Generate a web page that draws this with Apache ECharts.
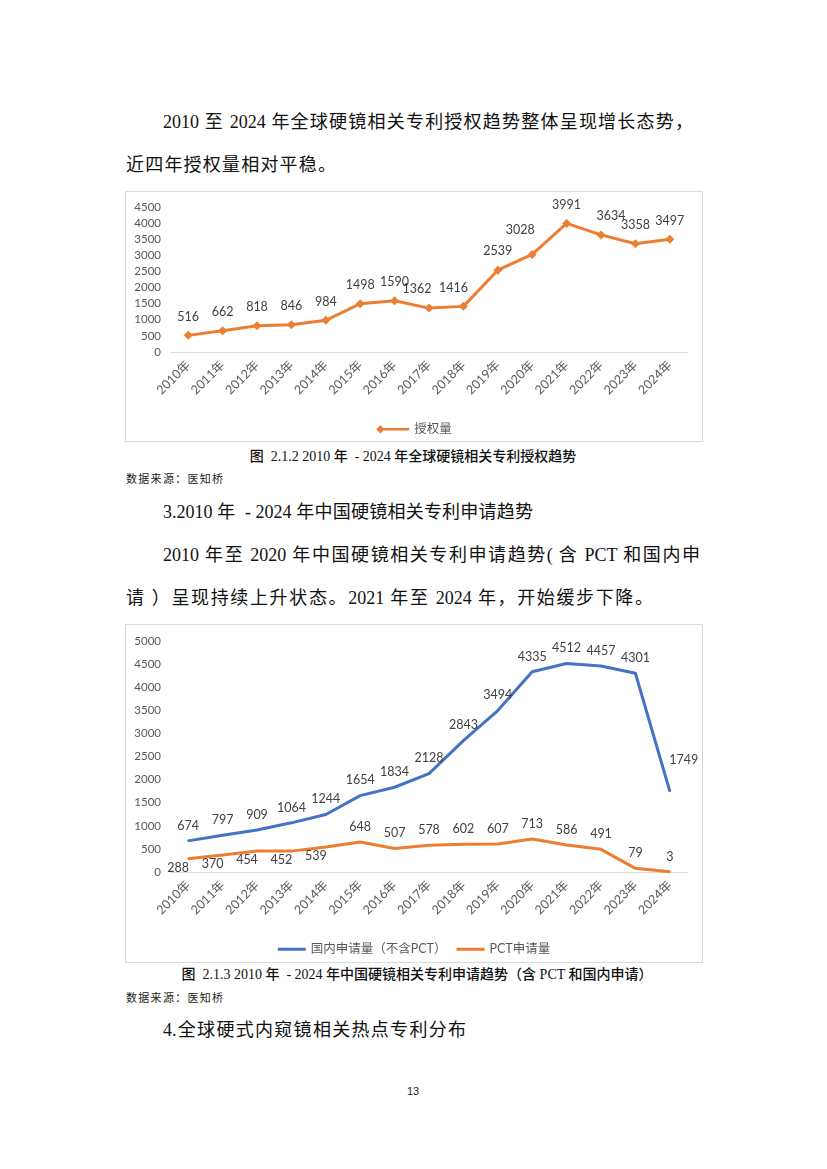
<!DOCTYPE html>
<html lang="zh-CN">
<head>
<meta charset="utf-8">
<script src="https://cdn.jsdelivr.net/npm/echarts@6/dist/echarts.min.js"></script>
<style>
  html,body{margin:0;padding:0;background:#fff;}
  body{width:827px;height:1169px;position:relative;overflow:hidden;}
  .p{position:absolute;font-family:"Liberation Serif","Noto Sans CJK SC",serif;font-size:18px;line-height:22px;color:#111;white-space:nowrap;}
  .j{text-align:justify;text-align-last:justify;white-space:normal;}
  .cap{position:absolute;font-family:"Liberation Serif","Noto Sans CJK SC",serif;font-size:14px;line-height:16px;color:#111;white-space:nowrap;font-weight:500;text-align:center;}
  .src{position:absolute;font-family:"Noto Sans CJK SC",serif;font-size:11px;line-height:14px;color:#222;letter-spacing:1.3px;white-space:nowrap;}
  .box{position:absolute;border:1px solid #d9d9d9;box-sizing:border-box;background:#fff;}
</style>
</head>
<body>
<div class="p j" style="left:163px;top:111px;width:530px;">2010 至 2024 年全球硬镜相关专利授权趋势整体呈现增长态势，</div>
<div class="p" style="left:126px;top:154px;letter-spacing:1.2px;">近四年授权量相对平稳。</div>

<div id="c1" class="box" style="left:125px;top:191px;width:578px;height:251px;"></div>

<div class="cap" style="left:213px;top:449px;width:400px;">图&nbsp; 2.1.2 2010 年&nbsp; - 2024 年全球硬镜相关专利授权趋势</div>
<div class="src" style="left:126px;top:471px;">数据来源：医知桥</div>

<div class="p j" style="left:163px;top:501px;width:370px;">3.2010 年&nbsp; - 2024 年中国硬镜相关专利申请趋势</div>
<div class="p j" style="left:163px;top:544px;width:537px;">2010 年至 2020 年中国硬镜相关专利申请趋势( 含 PCT 和国内申</div>
<div class="p j" style="left:126px;top:587px;width:527px;">请 ）呈现持续上升状态。2021 年至 2024 年，开始缓步下降。</div>

<div id="c2" class="box" style="left:125px;top:624px;width:578px;height:339px;"></div>

<div class="cap" style="left:117px;top:967px;width:600px;">图&nbsp; 2.1.3 2010 年&nbsp; - 2024 年中国硬镜相关专利申请趋势（含 PCT 和国内申请）</div>
<div class="src" style="left:126px;top:990px;">数据来源：医知桥</div>

<div class="p j" style="left:163px;top:1019px;width:303px;">4.全球硬式内窥镜相关热点专利分布</div>

<div style="position:absolute;left:393px;top:1085px;width:40px;text-align:center;font-family:'Liberation Sans',sans-serif;font-size:11px;color:#222;">13</div>

<script>
const years = ['2010年','2011年','2012年','2013年','2014年','2015年','2016年','2017年','2018年','2019年','2020年','2021年','2022年','2023年','2024年'];
const grants = [516,662,818,846,984,1498,1590,1362,1416,2539,3028,3991,3634,3358,3497];
const domestic = [674,797,909,1064,1244,1654,1834,2128,2843,3494,4335,4512,4457,4301,1749];
const pct = [288,370,454,452,539,648,507,578,602,607,713,586,491,79,3];
const grantsName = '授权量';
const domesticName = '国内申请量（不含PCT）';
const pctName = 'PCT申请量';

const FONT = 'Lato, "Noto Sans CJK SC", sans-serif';
const ORANGE = '#ED7D31';
const BLUE = '#4472C4';
const yLabelStyle = {color:'#595959', fontSize:11.5, fontFamily:FONT};
const xLabelStyle = {color:'#595959', fontSize:12.5, fontFamily:FONT};
const plain = v => String(v);

// label position tweaks (style only)
const g1Offsets = {7:[-12,0], 8:[-10,0], 10:[-12,-6], 12:[10,0]};
const c1 = echarts.init(document.getElementById('c1'), null, {renderer:'canvas'});
c1.setOption({
  animation:false,
  grid:{left:45,right:15,top:15,bottom:89},
  legend:{
    top:226, left:'center', itemWidth:33, itemHeight:9, itemGap:10,
    icon:'path://M0,5 L5,0 L10,5 L5,10 Z M6,3.5 L40,3.5 L40,6.5 L6,6.5 Z',
    textStyle:{color:'#595959', fontSize:12.5, fontFamily:FONT},
    data:[grantsName]
  },
  xAxis:{
    type:'category', data:years, boundaryGap:true,
    axisLine:{lineStyle:{color:'#d9d9d9', width:1}}, axisTick:{show:false},
    axisLabel:Object.assign({rotate:45, interval:0, margin:11}, xLabelStyle)
  },
  yAxis:{
    type:'value', min:0, max:4500, interval:500,
    splitLine:{show:false}, axisLine:{show:false}, axisTick:{show:false},
    axisLabel:Object.assign({margin:10, formatter:plain}, yLabelStyle)
  },
  series:[{
    name:grantsName, type:'line', symbol:'diamond', symbolSize:9,
    lineStyle:{width:3, color:ORANGE}, itemStyle:{color:ORANGE},
    label:{show:true, position:'top', distance:8, color:'#404040', fontSize:12.5, fontFamily:FONT},
    data:grants.map((v,i)=> g1Offsets[i] ? {value:v, label:{offset:g1Offsets[i]}} : v)
  }]
});

const c2 = echarts.init(document.getElementById('c2'), null, {renderer:'canvas'});
const belowIdx = [0,1,2,3,4];
c2.setOption({
  animation:false,
  grid:{left:45,right:15,top:16,bottom:90},
  legend:{
    top:313, left:'center', itemWidth:28, itemHeight:3, itemGap:10, icon:'rect',
    textStyle:{color:'#595959', fontSize:12.5, fontFamily:FONT},
    data:[domesticName, pctName]
  },
  xAxis:{
    type:'category', data:years, boundaryGap:true,
    axisLine:{lineStyle:{color:'#d9d9d9', width:1}}, axisTick:{show:false},
    axisLabel:Object.assign({rotate:45, interval:0, margin:11}, xLabelStyle)
  },
  yAxis:{
    type:'value', min:0, max:5000, interval:500,
    splitLine:{show:false}, axisLine:{show:false}, axisTick:{show:false},
    axisLabel:Object.assign({margin:10, formatter:plain}, yLabelStyle)
  },
  series:[{
    name:domesticName, type:'line', symbol:'circle', symbolSize:2,
    lineStyle:{width:3, color:BLUE}, itemStyle:{color:BLUE},
    label:{show:true, position:'top', distance:8, color:'#404040', fontSize:12.5, fontFamily:FONT},
    data:domestic.map((v,i)=> i===14 ? {value:v, label:{offset:[14,-16]}} : v)
  },{
    name:pctName, type:'line', symbol:'circle', symbolSize:2,
    lineStyle:{width:3, color:ORANGE}, itemStyle:{color:ORANGE},
    label:{show:true, position:'top', distance:8, color:'#404040', fontSize:12.5, fontFamily:FONT},
    data:pct.map((v,i)=> belowIdx.indexOf(i)>=0 ? {value:v, label:{position:'bottom', distance:2, offset:[-10,0]}} : v)
  }]
});
</script>
</body>
</html>
